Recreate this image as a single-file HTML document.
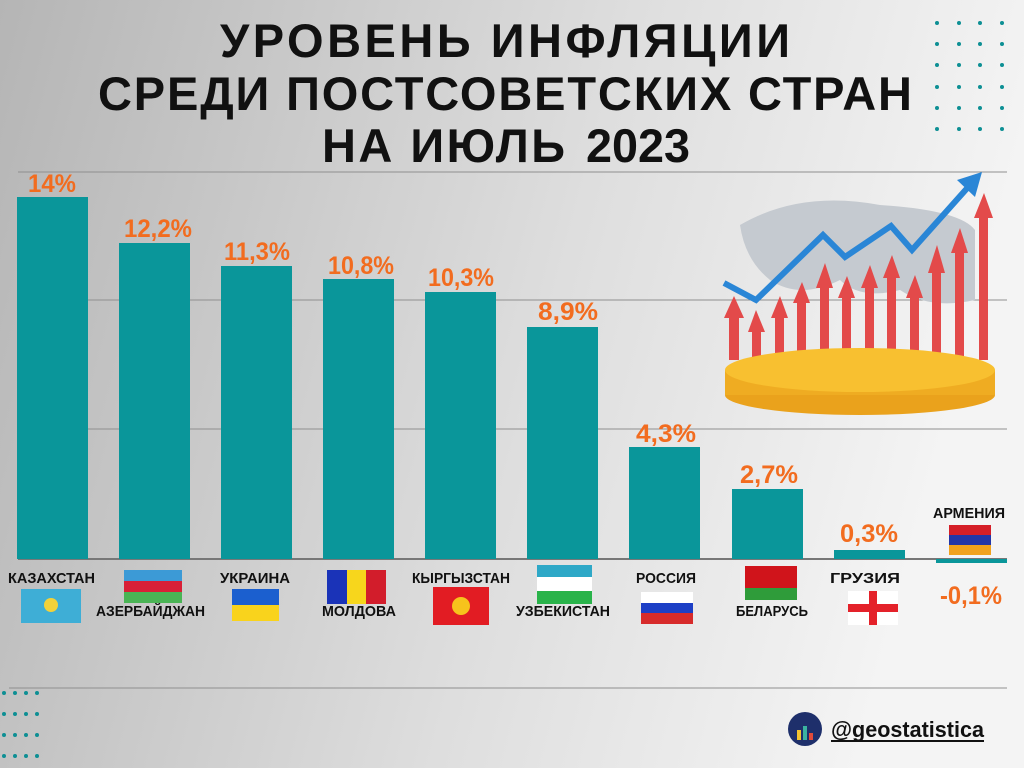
<!DOCTYPE html>
<html><head><meta charset="utf-8"><style>
body{margin:0;width:1024px;height:768px;overflow:hidden;}
svg{display:block}
.t{font-family:"Liberation Sans","DejaVu Sans",sans-serif;font-weight:bold;font-size:47px;fill:#111}
.v{font-family:"Liberation Sans",sans-serif;font-weight:bold;font-size:25px;fill:#f26c1f}
.c{font-family:"Liberation Sans",sans-serif;font-weight:bold;font-size:15px;fill:#111}
</style></head><body>
<svg width="1024" height="768" viewBox="0 0 1024 768" xmlns="http://www.w3.org/2000/svg">
<defs><linearGradient id="bg" x1="0" y1="0" x2="1" y2="0.2"><stop offset="0" stop-color="#b5b5b5"/><stop offset="0.6" stop-color="#dedede"/><stop offset="1" stop-color="#f4f4f4"/></linearGradient></defs>
<rect width="1024" height="768" fill="url(#bg)"/>
<g stroke="#8f8f8f" stroke-width="1"><line x1="18" y1="172" x2="1007" y2="172"/><line x1="18" y1="300" x2="1007" y2="300"/><line x1="18" y1="429" x2="1007" y2="429"/><line x1="9" y1="688" x2="1007" y2="688"/></g>
<line x1="18" y1="559" x2="1007" y2="559" stroke="#777" stroke-width="2"/>
<text class="t" x="220" y="57" textLength="570" lengthAdjust="spacing">УРОВЕНЬ ИНФЛЯЦИИ</text>
<text class="t" x="98" y="110" textLength="814" lengthAdjust="spacing">СРЕДИ ПОСТСОВЕТСКИХ СТРАН</text>
<text class="t" x="322" y="162" textLength="243" lengthAdjust="spacing">НА ИЮЛЬ</text>
<text class="t" x="586" y="162" font-size="50" textLength="104" lengthAdjust="spacingAndGlyphs">2023</text>
<g fill="#0a969a">
<rect x="17" y="197" width="71" height="362"/><rect x="119" y="243" width="71" height="316"/><rect x="221" y="266" width="71" height="293"/><rect x="323" y="279" width="71" height="280"/><rect x="425" y="292" width="71" height="267"/><rect x="527" y="327" width="71" height="232"/><rect x="629" y="447" width="71" height="112"/><rect x="732" y="489" width="71" height="70"/><rect x="834" y="550" width="71" height="9"/><rect x="936" y="559" width="71" height="4"/>
</g>
<g>
<text class="v" x="28" y="192" textLength="48" lengthAdjust="spacingAndGlyphs">14%</text>
<text class="v" x="124" y="237" textLength="68" lengthAdjust="spacingAndGlyphs">12,2%</text>
<text class="v" x="224" y="260" textLength="66" lengthAdjust="spacingAndGlyphs">11,3%</text>
<text class="v" x="328" y="274" textLength="66" lengthAdjust="spacingAndGlyphs">10,8%</text>
<text class="v" x="428" y="286" textLength="66" lengthAdjust="spacingAndGlyphs">10,3%</text>
<text class="v" x="538" y="320" textLength="60" lengthAdjust="spacingAndGlyphs">8,9%</text>
<text class="v" x="636" y="442" textLength="60" lengthAdjust="spacingAndGlyphs">4,3%</text>
<text class="v" x="740" y="483" textLength="58" lengthAdjust="spacingAndGlyphs">2,7%</text>
<text class="v" x="840" y="542" textLength="58" lengthAdjust="spacingAndGlyphs">0,3%</text>
<text class="v" x="940" y="604" textLength="62" lengthAdjust="spacingAndGlyphs">-0,1%</text>
</g>
<g>
<text class="c" x="8" y="583" textLength="87" lengthAdjust="spacingAndGlyphs">КАЗАХСТАН</text>
<text class="c" x="96" y="616" textLength="109" lengthAdjust="spacingAndGlyphs">АЗЕРБАЙДЖАН</text>
<text class="c" x="220" y="583" textLength="70" lengthAdjust="spacingAndGlyphs">УКРАИНА</text>
<text class="c" x="322" y="616" textLength="74" lengthAdjust="spacingAndGlyphs">МОЛДОВА</text>
<text class="c" x="412" y="583" textLength="98" lengthAdjust="spacingAndGlyphs">КЫРГЫЗСТАН</text>
<text class="c" x="516" y="616" textLength="94" lengthAdjust="spacingAndGlyphs">УЗБЕКИСТАН</text>
<text class="c" x="636" y="583" textLength="60" lengthAdjust="spacingAndGlyphs">РОССИЯ</text>
<text class="c" x="736" y="616" textLength="72" lengthAdjust="spacingAndGlyphs">БЕЛАРУСЬ</text>
<text class="c" x="830" y="583" textLength="70" lengthAdjust="spacingAndGlyphs">ГРУЗИЯ</text>
<text class="c" x="933" y="518" font-size="13" textLength="72" lengthAdjust="spacingAndGlyphs">АРМЕНИЯ</text>
</g>
<!-- flags -->
<rect x="21" y="589" width="60" height="34" fill="#3eaed6"/><circle cx="51" cy="605" r="7" fill="#f2d23a"/>
<rect x="124" y="570" width="58" height="11" fill="#3c9ad6"/><rect x="124" y="581" width="58" height="11" fill="#d92037"/><rect x="124" y="592" width="58" height="11" fill="#4ab455"/>
<rect x="232" y="589" width="47" height="16" fill="#1b5fcf"/><rect x="232" y="605" width="47" height="16" fill="#f9d31c"/>
<rect x="327" y="570" width="20" height="34" fill="#1a33b8"/><rect x="347" y="570" width="19" height="34" fill="#f7d61c"/><rect x="366" y="570" width="20" height="34" fill="#d21d2b"/>
<rect x="433" y="587" width="56" height="38" fill="#e21c23"/><circle cx="461" cy="606" r="9" fill="#f7c31c"/>
<rect x="537" y="565" width="55" height="12" fill="#2ea8c7"/><rect x="537" y="577" width="55" height="14" fill="#fff"/><rect x="537" y="591" width="55" height="13" fill="#29b34a"/>
<rect x="641" y="592" width="52" height="11" fill="#fff"/><rect x="641" y="603" width="52" height="10" fill="#1d3fc6"/><rect x="641" y="613" width="52" height="11" fill="#d72b2b"/>
<rect x="740" y="566" width="57" height="22" fill="#d0141b"/><rect x="740" y="588" width="57" height="12" fill="#2f9c3a"/><rect x="740" y="566" width="5" height="34" fill="#eee"/>
<rect x="848" y="591" width="50" height="34" fill="#fff"/><rect x="869" y="591" width="8" height="34" fill="#e4222a"/><rect x="848" y="604" width="50" height="8" fill="#e4222a"/>
<rect x="949" y="525" width="42" height="10" fill="#d51f28"/><rect x="949" y="535" width="42" height="10" fill="#2236a8"/><rect x="949" y="545" width="42" height="10" fill="#f1a21d"/>
<!-- dots -->
<g fill="#0d8f94">
<circle cx="937" cy="23" r="2"/><circle cx="959" cy="23" r="2"/><circle cx="980" cy="23" r="2"/><circle cx="1002" cy="23" r="2"/>
<circle cx="937" cy="44" r="2"/><circle cx="959" cy="44" r="2"/><circle cx="980" cy="44" r="2"/><circle cx="1002" cy="44" r="2"/>
<circle cx="937" cy="65" r="2"/><circle cx="959" cy="65" r="2"/><circle cx="980" cy="65" r="2"/><circle cx="1002" cy="65" r="2"/>
<circle cx="937" cy="87" r="2"/><circle cx="959" cy="87" r="2"/><circle cx="980" cy="87" r="2"/><circle cx="1002" cy="87" r="2"/>
<circle cx="937" cy="108" r="2"/><circle cx="959" cy="108" r="2"/><circle cx="980" cy="108" r="2"/><circle cx="1002" cy="108" r="2"/>
<circle cx="937" cy="129" r="2"/><circle cx="959" cy="129" r="2"/><circle cx="980" cy="129" r="2"/><circle cx="1002" cy="129" r="2"/>
<circle cx="4" cy="693" r="2"/><circle cx="15" cy="693" r="2"/><circle cx="26" cy="693" r="2"/><circle cx="37" cy="693" r="2"/>
<circle cx="4" cy="714" r="2"/><circle cx="15" cy="714" r="2"/><circle cx="26" cy="714" r="2"/><circle cx="37" cy="714" r="2"/>
<circle cx="4" cy="735" r="2"/><circle cx="15" cy="735" r="2"/><circle cx="26" cy="735" r="2"/><circle cx="37" cy="735" r="2"/>
<circle cx="4" cy="756" r="2"/><circle cx="15" cy="756" r="2"/><circle cx="26" cy="756" r="2"/><circle cx="37" cy="756" r="2"/>
</g>
<!-- illustration -->
<path d="M740 225 Q800 190 880 205 Q960 210 975 230 L975 300 Q930 310 900 290 Q860 300 840 280 Q800 300 770 280 Q745 260 740 225Z" fill="#c5cad0"/>
<g fill="#e34a4a">
<rect x="729" y="315" width="10" height="45"/><polygon points="724,318 734,296 744,318"/>
<rect x="752" y="330" width="9" height="30"/><polygon points="748,332 756,310 765,332"/>
<rect x="775" y="315" width="9" height="45"/><polygon points="771,318 780,296 788,318"/>
<rect x="797" y="300" width="9" height="60"/><polygon points="793,303 802,282 810,303"/>
<rect x="820" y="285" width="9" height="75"/><polygon points="816,288 825,263 833,288"/>
<rect x="842" y="295" width="9" height="65"/><polygon points="838,298 847,276 855,298"/>
<rect x="865" y="285" width="9" height="75"/><polygon points="861,288 870,265 878,288"/>
<rect x="887" y="275" width="9" height="85"/><polygon points="883,278 892,255 900,278"/>
<rect x="910" y="295" width="9" height="65"/><polygon points="906,298 915,275 923,298"/>
<rect x="932" y="270" width="9" height="90"/><polygon points="928,273 937,245 945,273"/>
<rect x="955" y="250" width="9" height="110"/><polygon points="951,253 960,228 968,253"/>
<rect x="979" y="215" width="9" height="145"/><polygon points="974,218 984,193 993,218"/>
</g>
<polyline points="724,283 756,300 823,235 845,257 891,226 912,250 970,185" fill="none" stroke="#2a86d6" stroke-width="6"/>
<polygon points="957,180 982,172 975,197" fill="#2a86d6"/>
<ellipse cx="860" cy="395" rx="135" ry="20" fill="#eaa21c"/>
<rect x="725" y="370" width="270" height="25" fill="#efac22"/>
<ellipse cx="860" cy="370" rx="135" ry="22" fill="#f8c030"/>
<!-- logo -->
<circle cx="805" cy="729" r="17" fill="#1e2f6b"/>
<rect x="797" y="730" width="4" height="10" fill="#f2c230"/><rect x="803" y="726" width="4" height="14" fill="#3bb3a0"/><rect x="809" y="733" width="4" height="7" fill="#e04a3a"/>
<text x="831" y="737" font-family="Liberation Sans,sans-serif" font-weight="bold" font-size="22" fill="#111" textLength="153" lengthAdjust="spacingAndGlyphs">@geostatistica</text>
<line x1="831" y1="741" x2="984" y2="741" stroke="#111" stroke-width="2"/>
</svg>
</body></html>
